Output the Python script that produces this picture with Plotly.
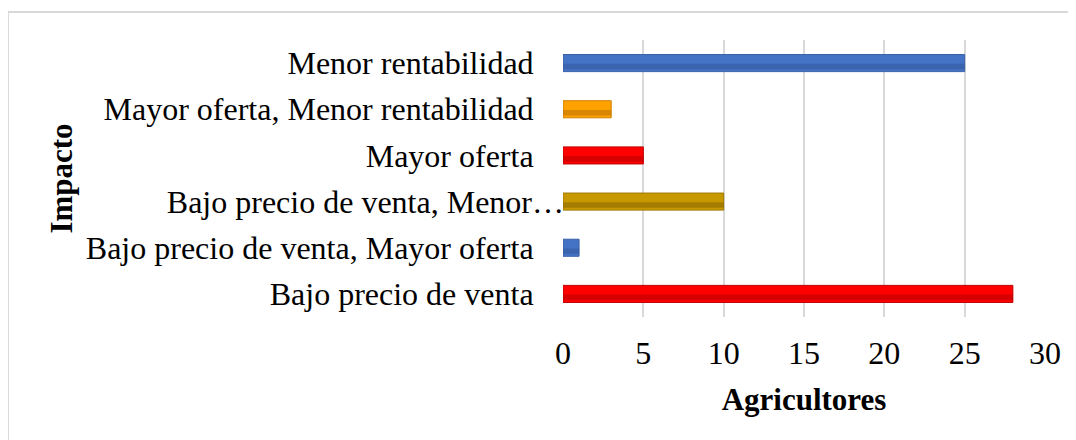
import plotly.graph_objects as go

# categorias de abajo hacia arriba (como en el grafico de Excel)
categorias = [
    "Bajo precio de venta",
    "Bajo precio de venta, Mayor oferta",
    "Bajo precio de venta, Menor rentabilidad",
    "Mayor oferta",
    "Mayor oferta, Menor rentabilidad",
    "Menor rentabilidad",
]
etiquetas = [
    "Bajo precio de venta",
    "Bajo precio de venta, Mayor oferta",
    "Bajo precio de venta, Menor…",
    "Mayor oferta",
    "Mayor oferta, Menor rentabilidad",
    "Menor rentabilidad",
]
agricultores = [28, 1, 10, 5, 3, 25]
colores = ["#FF0000", "#4472C4", "#C89800", "#FF0000", "#FFA200", "#4472C4"]
sombras = ["#B00000", "#2F5597", "#7F6000", "#B00000", "#B36B00", "#2F5597"]
bordes = ["#C00000", "#3A62A8", "#A07800", "#C00000", "#D08000", "#3A62A8"]

relleno = "\u00a0" * 3 + "\u2009"
ticktext = [e if "…" in e else e + relleno for e in etiquetas]

fuente = "Liberation Serif, Times New Roman, serif"

fig = go.Figure()
# barra base
fig.add_trace(go.Bar(
    y=categorias, x=agricultores, orientation="h",
    width=0.37, offset=-0.185,
    marker=dict(color=colores, line=dict(color=bordes, width=1)),
    showlegend=False, hoverinfo="x+y"))
# banda oscura del bisel
fig.add_trace(go.Bar(
    y=categorias, x=agricultores, orientation="h",
    width=0.12, offset=-0.135,
    marker=dict(color=sombras, opacity=0.5, line=dict(width=0)),
    showlegend=False, hoverinfo="skip"))

# la pagina html tiene 8px de margen en el body -> se compensa en los margenes
fig.update_layout(
    width=1076, height=440,
    barmode="overlay",
    plot_bgcolor="white", paper_bgcolor="white",
    margin=dict(l=555, r=39, t=32, b=131),
    font=dict(family=fuente, size=32, color="black"),
    xaxis=dict(
        range=[0, 30], dtick=5, tick0=0, automargin=False,
        showgrid=True, gridcolor="#D9D9D9", gridwidth=2,
        zeroline=False, showline=False,
        ticks="outside", ticklen=8, tickcolor="rgba(0,0,0,0)",
        tickfont=dict(size=32),
        title=dict(text="<b>Agricultores</b>", font=dict(size=31), standoff=17),
    ),
    yaxis=dict(
        categoryorder="array", categoryarray=categorias, automargin=False,
        tickvals=categorias, ticktext=ticktext,
        showgrid=False, zeroline=False, showline=False,
        ticks="", ticklabelstandoff=-2,
        tickfont=dict(size=32),
        title=dict(text="<b>Impacto</b>", font=dict(size=31), standoff=3),
    ),
    shapes=[dict(
        type="rect", xref="paper", yref="paper",
        x0=-1.1515, x1=1.1, y0=-0.5, y1=1.101,
        line=dict(color="#D9D9D9", width=2), fillcolor="rgba(0,0,0,0)",
        layer="below")],
)

fig.write_html("out.html")
